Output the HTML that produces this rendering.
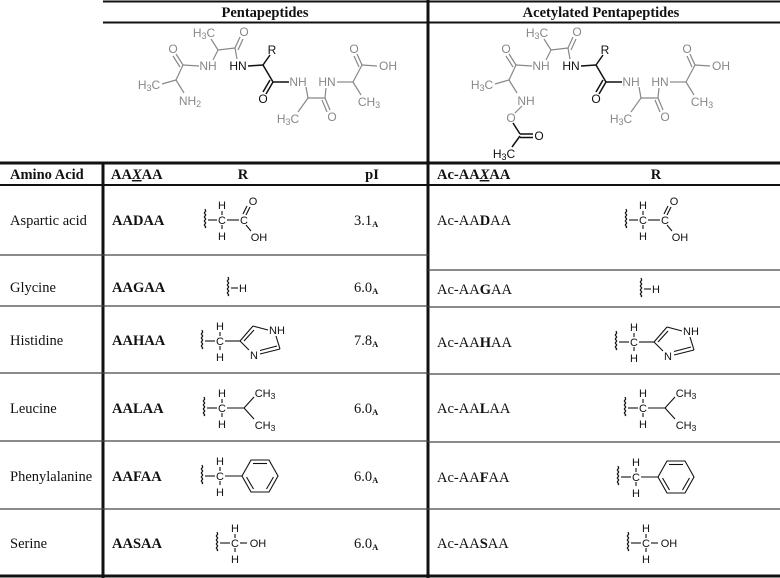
<!DOCTYPE html>
<html><head><meta charset="utf-8"><style>
html,body{margin:0;padding:0;background:#fff;}
svg{display:block;}
.t{font-family:"Liberation Serif",serif;font-size:14.5px;fill:#111;}
.b{font-weight:bold;}
.s{font-family:"Liberation Sans",sans-serif;font-size:11px;fill:#111;}
.g{font-family:"Liberation Sans",sans-serif;font-size:12px;fill:#888;}
.k{font-family:"Liberation Sans",sans-serif;font-size:12px;fill:#111;}
</style></head><body>
<svg width="780" height="578" viewBox="0 0 780 578" xmlns="http://www.w3.org/2000/svg">
<defs>
<path id="wv" d="M0,-11 l0.7,2 l-1.4,2 l1.4,2 l-1.4,2 l1.4,2 l-1.4,2 l1.4,2 l-1.4,2 l1.4,2 l-0.7,1" fill="none" stroke="#111" stroke-width="1.2"/>
</defs>
<g stroke="#111" fill="none">
<line x1="103" y1="1.5" x2="780" y2="1.5" stroke-width="2"/>
<line x1="103" y1="22.5" x2="780" y2="22.5" stroke-width="2"/>
<line x1="428" y1="0" x2="428" y2="578" stroke-width="3"/>
<line x1="0" y1="163" x2="780" y2="163" stroke-width="3"/>
<line x1="0" y1="185" x2="780" y2="185" stroke-width="2"/>
<line x1="103" y1="163" x2="103" y2="578" stroke-width="3"/>
<line x1="0" y1="576" x2="780" y2="576" stroke-width="3"/>
<g stroke="#444" stroke-width="1.3">
<line x1="0" y1="255" x2="428" y2="255"/><line x1="0" y1="306" x2="428" y2="306"/>
<line x1="0" y1="373" x2="428" y2="373"/><line x1="0" y1="441" x2="428" y2="441"/>
<line x1="0" y1="509" x2="428" y2="509"/>
<line x1="428" y1="270" x2="780" y2="270"/><line x1="428" y1="307" x2="780" y2="307"/>
<line x1="428" y1="374" x2="780" y2="374"/><line x1="428" y1="442" x2="780" y2="442"/>
<line x1="428" y1="509" x2="780" y2="509"/>
</g>
</g>
<text class="t b" x="265" y="17" text-anchor="middle">Pentapeptides</text>
<text class="t b" x="601" y="17" text-anchor="middle">Acetylated Pentapeptides</text>
<text class="t b" x="10" y="179">Amino Acid</text>
<text class="t b" x="111" y="179">AA<tspan font-style="italic" text-decoration="underline">X</tspan>AA</text>
<text class="t b" x="243" y="179" text-anchor="middle">R</text>
<text class="t b" x="372" y="179" text-anchor="middle">pI</text>
<text class="t b" x="437" y="179">Ac-AA<tspan font-style="italic" text-decoration="underline">X</tspan>AA</text>
<text class="t b" x="656" y="179" text-anchor="middle">R</text>

<g>
<g stroke="#888" stroke-width="1.2" fill="none">
<line x1="162" y1="84" x2="176" y2="80"/><line x1="176" y1="80" x2="184" y2="93"/>
<line x1="176" y1="80" x2="183" y2="65"/>
<line x1="183" y1="65" x2="176" y2="54"/><line x1="180" y1="67" x2="173" y2="56"/>
<line x1="183" y1="65" x2="199" y2="66"/>
<line x1="213" y1="60" x2="218" y2="50"/><line x1="218" y1="50" x2="211" y2="39"/>
<line x1="218" y1="50" x2="235" y2="48"/>
<line x1="235" y1="48" x2="240" y2="37"/><line x1="238" y1="50" x2="243" y2="39"/>
<line x1="235" y1="48" x2="237" y2="59"/>
<line x1="306" y1="87" x2="308" y2="98"/><line x1="308" y1="98" x2="298" y2="112"/>
<line x1="308" y1="98" x2="325" y2="98"/>
<line x1="325" y1="98" x2="330" y2="110"/><line x1="322" y1="100" x2="327" y2="112"/>
<line x1="325" y1="98" x2="326" y2="88"/>
<line x1="337" y1="82" x2="353" y2="82"/>
<line x1="353" y1="82" x2="362" y2="65"/>
<line x1="362" y1="65" x2="357" y2="54"/><line x1="359" y1="67" x2="354" y2="56"/>
<line x1="362" y1="65" x2="377" y2="66"/>
<line x1="353" y1="82" x2="361" y2="95"/>
</g>
<g stroke="#111" stroke-width="1.5" fill="none">
<line x1="248" y1="66" x2="263" y2="65"/><line x1="263" y1="65" x2="270" y2="55"/>
<line x1="263" y1="65" x2="273" y2="82"/>
<line x1="273" y1="82" x2="266" y2="94"/><line x1="270" y1="80" x2="263" y2="92"/>
<line x1="273" y1="82" x2="289" y2="82"/>
</g>
<text class="g" x="149" y="89" text-anchor="middle">H<tspan font-size="9" dy="2">3</tspan><tspan dy="-2">C</tspan></text>
<text class="g" x="173" y="53" text-anchor="middle">O</text>
<text class="g" x="208" y="70" text-anchor="middle">NH</text>
<text class="g" x="204" y="37" text-anchor="middle">H<tspan font-size="9" dy="2">3</tspan><tspan dy="-2">C</tspan></text>
<text class="g" x="244" y="36" text-anchor="middle">O</text>
<text class="k" x="238" y="70" text-anchor="middle">HN</text>
<text class="k" x="272" y="54" text-anchor="middle">R</text>
<text class="k" x="263" y="103" text-anchor="middle">O</text>
<text class="g" x="298" y="86" text-anchor="middle">NH</text>
<text class="g" x="288" y="123" text-anchor="middle">H<tspan font-size="9" dy="2">3</tspan><tspan dy="-2">C</tspan></text>
<text class="g" x="332" y="121" text-anchor="middle">O</text>
<text class="g" x="327" y="86" text-anchor="middle">HN</text>
<text class="g" x="354" y="53" text-anchor="middle">O</text>
<text class="g" x="388" y="70" text-anchor="middle">OH</text>
<text class="g" x="369" y="106" text-anchor="middle">CH<tspan font-size="9" dy="2">3</tspan></text>
</g>
<text class="g" x="190" y="105" text-anchor="middle">NH<tspan font-size="9" dy="2">2</tspan></text>

<g transform="translate(333,0)">
<g stroke="#888" stroke-width="1.2" fill="none">
<line x1="162" y1="84" x2="176" y2="80"/><line x1="176" y1="80" x2="184" y2="93"/>
<line x1="176" y1="80" x2="183" y2="65"/>
<line x1="183" y1="65" x2="176" y2="54"/><line x1="180" y1="67" x2="173" y2="56"/>
<line x1="183" y1="65" x2="199" y2="66"/>
<line x1="213" y1="60" x2="218" y2="50"/><line x1="218" y1="50" x2="211" y2="39"/>
<line x1="218" y1="50" x2="235" y2="48"/>
<line x1="235" y1="48" x2="240" y2="37"/><line x1="238" y1="50" x2="243" y2="39"/>
<line x1="235" y1="48" x2="237" y2="59"/>
<line x1="306" y1="87" x2="308" y2="98"/><line x1="308" y1="98" x2="298" y2="112"/>
<line x1="308" y1="98" x2="325" y2="98"/>
<line x1="325" y1="98" x2="330" y2="110"/><line x1="322" y1="100" x2="327" y2="112"/>
<line x1="325" y1="98" x2="326" y2="88"/>
<line x1="337" y1="82" x2="353" y2="82"/>
<line x1="353" y1="82" x2="362" y2="65"/>
<line x1="362" y1="65" x2="357" y2="54"/><line x1="359" y1="67" x2="354" y2="56"/>
<line x1="362" y1="65" x2="377" y2="66"/>
<line x1="353" y1="82" x2="361" y2="95"/>
<line x1="189" y1="106" x2="182" y2="113"/>
</g>
<g stroke="#111" stroke-width="1.5" fill="none">
<line x1="248" y1="66" x2="263" y2="65"/><line x1="263" y1="65" x2="270" y2="55"/>
<line x1="263" y1="65" x2="273" y2="82"/>
<line x1="273" y1="82" x2="266" y2="94"/><line x1="270" y1="80" x2="263" y2="92"/>
<line x1="273" y1="82" x2="289" y2="82"/>
<line x1="180" y1="123" x2="187" y2="134"/>
<line x1="187" y1="134" x2="200" y2="134"/><line x1="187" y1="137.5" x2="200" y2="137.5"/>
<line x1="187" y1="136" x2="179" y2="147"/>
</g>
<text class="g" x="149" y="89" text-anchor="middle">H<tspan font-size="9" dy="2">3</tspan><tspan dy="-2">C</tspan></text>
<text class="g" x="173" y="53" text-anchor="middle">O</text>
<text class="g" x="208" y="70" text-anchor="middle">NH</text>
<text class="g" x="204" y="37" text-anchor="middle">H<tspan font-size="9" dy="2">3</tspan><tspan dy="-2">C</tspan></text>
<text class="g" x="244" y="36" text-anchor="middle">O</text>
<text class="k" x="238" y="70" text-anchor="middle">HN</text>
<text class="k" x="272" y="54" text-anchor="middle">R</text>
<text class="k" x="263" y="103" text-anchor="middle">O</text>
<text class="g" x="298" y="86" text-anchor="middle">NH</text>
<text class="g" x="288" y="123" text-anchor="middle">H<tspan font-size="9" dy="2">3</tspan><tspan dy="-2">C</tspan></text>
<text class="g" x="332" y="121" text-anchor="middle">O</text>
<text class="g" x="327" y="86" text-anchor="middle">HN</text>
<text class="g" x="354" y="53" text-anchor="middle">O</text>
<text class="g" x="388" y="70" text-anchor="middle">OH</text>
<text class="g" x="369" y="106" text-anchor="middle">CH<tspan font-size="9" dy="2">3</tspan></text>
<text class="g" x="193" y="105" text-anchor="middle">NH</text>
<text class="g" x="178" y="122" text-anchor="middle">O</text>
<text class="k" x="206" y="140" text-anchor="middle">O</text>
<text class="k" x="171" y="158" text-anchor="middle">H<tspan font-size="9" dy="2">3</tspan><tspan dy="-2">C</tspan></text>
</g>

<g class="t">
<text x="10" y="225">Aspartic acid</text>
<text x="10" y="292">Glycine</text>
<text x="10" y="345">Histidine</text>
<text x="10" y="413">Leucine</text>
<text x="10" y="481">Phenylalanine</text>
<text x="10" y="548">Serine</text>
</g>
<g class="t b">
<text x="112" y="225">AADAA</text>
<text x="112" y="292">AAGAA</text>
<text x="112" y="345">AAHAA</text>
<text x="112" y="413">AALAA</text>
<text x="112" y="481">AAFAA</text>
<text x="112" y="548">AASAA</text>
</g>
<g class="t">
<text x="354" y="225">3.1<tspan font-size="8.5" font-weight="bold" dy="2">A</tspan></text>
<text x="354" y="292">6.0<tspan font-size="8.5" font-weight="bold" dy="2">A</tspan></text>
<text x="354" y="345">7.8<tspan font-size="8.5" font-weight="bold" dy="2">A</tspan></text>
<text x="354" y="413">6.0<tspan font-size="8.5" font-weight="bold" dy="2">A</tspan></text>
<text x="354" y="481">6.0<tspan font-size="8.5" font-weight="bold" dy="2">A</tspan></text>
<text x="354" y="548">6.0<tspan font-size="8.5" font-weight="bold" dy="2">A</tspan></text>
</g>
<g class="t">
<text x="437" y="225">Ac-AA<tspan font-weight="bold">D</tspan>AA</text>
<text x="437" y="294">Ac-AA<tspan font-weight="bold">G</tspan>AA</text>
<text x="437" y="347">Ac-AA<tspan font-weight="bold">H</tspan>AA</text>
<text x="437" y="413">Ac-AA<tspan font-weight="bold">L</tspan>AA</text>
<text x="437" y="482">Ac-AA<tspan font-weight="bold">F</tspan>AA</text>
<text x="437" y="548">Ac-AA<tspan font-weight="bold">S</tspan>AA</text>
</g>

<g transform="translate(205,220)">
<use href="#wv"/>
<g stroke="#111" stroke-width="1.1" fill="none">
<line x1="3" y1="0" x2="12" y2="0"/><line x1="17" y1="-9" x2="17" y2="-5"/><line x1="17" y1="5" x2="17" y2="9"/>
<line x1="22" y1="0" x2="34" y2="0"/>
<line x1="41" y1="-5" x2="45" y2="-13"/><line x1="38" y1="-6" x2="42" y2="-14"/>
<line x1="41" y1="5" x2="46" y2="11"/>
</g>
<text class="s" x="17" y="4" text-anchor="middle">C</text>
<text class="s" x="17" y="-11" text-anchor="middle">H</text>
<text class="s" x="17" y="20" text-anchor="middle">H</text>
<text class="s" x="39" y="4" text-anchor="middle">C</text>
<text class="s" x="48" y="-15" text-anchor="middle">O</text>
<text class="s" x="54" y="21" text-anchor="middle">OH</text>
</g>
<g transform="translate(626,220)">
<use href="#wv"/>
<g stroke="#111" stroke-width="1.1" fill="none">
<line x1="3" y1="0" x2="12" y2="0"/><line x1="17" y1="-9" x2="17" y2="-5"/><line x1="17" y1="5" x2="17" y2="9"/>
<line x1="22" y1="0" x2="34" y2="0"/>
<line x1="41" y1="-5" x2="45" y2="-13"/><line x1="38" y1="-6" x2="42" y2="-14"/>
<line x1="41" y1="5" x2="46" y2="11"/>
</g>
<text class="s" x="17" y="4" text-anchor="middle">C</text>
<text class="s" x="17" y="-11" text-anchor="middle">H</text>
<text class="s" x="17" y="20" text-anchor="middle">H</text>
<text class="s" x="39" y="4" text-anchor="middle">C</text>
<text class="s" x="48" y="-15" text-anchor="middle">O</text>
<text class="s" x="54" y="21" text-anchor="middle">OH</text>
</g>

<g transform="translate(228,288)"><use href="#wv"/><line x1="3" y1="0" x2="10" y2="0" stroke="#111" stroke-width="1.1"/><text class="s" x="15" y="4" text-anchor="middle">H</text></g>
<g transform="translate(641,289)"><use href="#wv"/><line x1="3" y1="0" x2="10" y2="0" stroke="#111" stroke-width="1.1"/><text class="s" x="15" y="4" text-anchor="middle">H</text></g>

<g transform="translate(202,341)">
<use href="#wv"/>
<g stroke="#111" stroke-width="1.1" fill="none">
<line x1="3" y1="0" x2="13" y2="0"/><line x1="18" y1="-9" x2="18" y2="-5"/><line x1="18" y1="5" x2="18" y2="9"/>
<line x1="23" y1="0" x2="38" y2="0"/>
<line x1="38" y1="0" x2="51" y2="-15"/><line x1="42" y1="0" x2="52" y2="-11"/>
<line x1="51" y1="-15" x2="66" y2="-11"/>
<line x1="74" y1="-5" x2="78" y2="8"/>
<line x1="78" y1="8" x2="58" y2="13"/><line x1="75" y1="5" x2="58" y2="9.5"/>
<line x1="38" y1="0" x2="47" y2="9"/>
</g>
<text class="s" x="18" y="4" text-anchor="middle">C</text>
<text class="s" x="18" y="-11" text-anchor="middle">H</text>
<text class="s" x="18" y="20" text-anchor="middle">H</text>
<text class="s" x="75" y="-7" text-anchor="middle">NH</text>
<text class="s" x="52" y="18" text-anchor="middle">N</text>
</g>
<g transform="translate(616,342)">
<use href="#wv"/>
<g stroke="#111" stroke-width="1.1" fill="none">
<line x1="3" y1="0" x2="13" y2="0"/><line x1="18" y1="-9" x2="18" y2="-5"/><line x1="18" y1="5" x2="18" y2="9"/>
<line x1="23" y1="0" x2="38" y2="0"/>
<line x1="38" y1="0" x2="51" y2="-15"/><line x1="42" y1="0" x2="52" y2="-11"/>
<line x1="51" y1="-15" x2="66" y2="-11"/>
<line x1="74" y1="-5" x2="78" y2="8"/>
<line x1="78" y1="8" x2="58" y2="13"/><line x1="75" y1="5" x2="58" y2="9.5"/>
<line x1="38" y1="0" x2="47" y2="9"/>
</g>
<text class="s" x="18" y="4" text-anchor="middle">C</text>
<text class="s" x="18" y="-11" text-anchor="middle">H</text>
<text class="s" x="18" y="20" text-anchor="middle">H</text>
<text class="s" x="75" y="-7" text-anchor="middle">NH</text>
<text class="s" x="52" y="18" text-anchor="middle">N</text>
</g>

<g transform="translate(204,408)">
<use href="#wv"/>
<g stroke="#111" stroke-width="1.1" fill="none">
<line x1="3" y1="0" x2="13" y2="0"/><line x1="18" y1="-9" x2="18" y2="-5"/><line x1="18" y1="5" x2="18" y2="9"/>
<line x1="23" y1="0" x2="40" y2="0"/><line x1="40" y1="0" x2="50" y2="-11"/><line x1="40" y1="0" x2="50" y2="11"/>
</g>
<text class="s" x="18" y="4" text-anchor="middle">C</text>
<text class="s" x="18" y="-11" text-anchor="middle">H</text>
<text class="s" x="18" y="20" text-anchor="middle">H</text>
<text class="s" x="61" y="-11" text-anchor="middle">CH<tspan font-size="8.5" dy="2">3</tspan></text>
<text class="s" x="61" y="21" text-anchor="middle">CH<tspan font-size="8.5" dy="2">3</tspan></text>
</g>
<g transform="translate(625,408)">
<use href="#wv"/>
<g stroke="#111" stroke-width="1.1" fill="none">
<line x1="3" y1="0" x2="13" y2="0"/><line x1="18" y1="-9" x2="18" y2="-5"/><line x1="18" y1="5" x2="18" y2="9"/>
<line x1="23" y1="0" x2="40" y2="0"/><line x1="40" y1="0" x2="50" y2="-11"/><line x1="40" y1="0" x2="50" y2="11"/>
</g>
<text class="s" x="18" y="4" text-anchor="middle">C</text>
<text class="s" x="18" y="-11" text-anchor="middle">H</text>
<text class="s" x="18" y="20" text-anchor="middle">H</text>
<text class="s" x="61" y="-11" text-anchor="middle">CH<tspan font-size="8.5" dy="2">3</tspan></text>
<text class="s" x="61" y="21" text-anchor="middle">CH<tspan font-size="8.5" dy="2">3</tspan></text>
</g>

<g transform="translate(202,476)">
<use href="#wv"/>
<g stroke="#111" stroke-width="1.1" fill="none">
<line x1="3" y1="0" x2="13" y2="0"/><line x1="18" y1="-9" x2="18" y2="-5"/><line x1="18" y1="5" x2="18" y2="9"/>
<line x1="23" y1="0" x2="40" y2="0"/>
<polygon points="40,0 49,-16 67,-16 76,0 67,16 49,16"/>
<line x1="51" y1="-12.5" x2="65" y2="-12.5"/>
<line x1="71.5" y1="1" x2="64.5" y2="13"/>
<line x1="44.5" y1="1" x2="51.5" y2="13"/>
</g>
<text class="s" x="18" y="4" text-anchor="middle">C</text>
<text class="s" x="18" y="-11" text-anchor="middle">H</text>
<text class="s" x="18" y="20" text-anchor="middle">H</text>
</g>
<g transform="translate(618,477)">
<use href="#wv"/>
<g stroke="#111" stroke-width="1.1" fill="none">
<line x1="3" y1="0" x2="13" y2="0"/><line x1="18" y1="-9" x2="18" y2="-5"/><line x1="18" y1="5" x2="18" y2="9"/>
<line x1="23" y1="0" x2="40" y2="0"/>
<polygon points="40,0 49,-16 67,-16 76,0 67,16 49,16"/>
<line x1="51" y1="-12.5" x2="65" y2="-12.5"/>
<line x1="71.5" y1="1" x2="64.5" y2="13"/>
<line x1="44.5" y1="1" x2="51.5" y2="13"/>
</g>
<text class="s" x="18" y="4" text-anchor="middle">C</text>
<text class="s" x="18" y="-11" text-anchor="middle">H</text>
<text class="s" x="18" y="20" text-anchor="middle">H</text>
</g>

<g transform="translate(217,543)">
<use href="#wv"/>
<g stroke="#111" stroke-width="1.1" fill="none">
<line x1="3" y1="0" x2="13" y2="0"/><line x1="18" y1="-9" x2="18" y2="-5"/><line x1="18" y1="5" x2="18" y2="9"/>
<line x1="23" y1="0" x2="30" y2="0"/>
</g>
<text class="s" x="18" y="4" text-anchor="middle">C</text>
<text class="s" x="18" y="-11" text-anchor="middle">H</text>
<text class="s" x="18" y="20" text-anchor="middle">H</text>
<text class="s" x="41" y="4" text-anchor="middle">OH</text>
</g>
<g transform="translate(628,543)">
<use href="#wv"/>
<g stroke="#111" stroke-width="1.1" fill="none">
<line x1="3" y1="0" x2="13" y2="0"/><line x1="18" y1="-9" x2="18" y2="-5"/><line x1="18" y1="5" x2="18" y2="9"/>
<line x1="23" y1="0" x2="30" y2="0"/>
</g>
<text class="s" x="18" y="4" text-anchor="middle">C</text>
<text class="s" x="18" y="-11" text-anchor="middle">H</text>
<text class="s" x="18" y="20" text-anchor="middle">H</text>
<text class="s" x="41" y="4" text-anchor="middle">OH</text>
</g>
</svg>
</body></html>
